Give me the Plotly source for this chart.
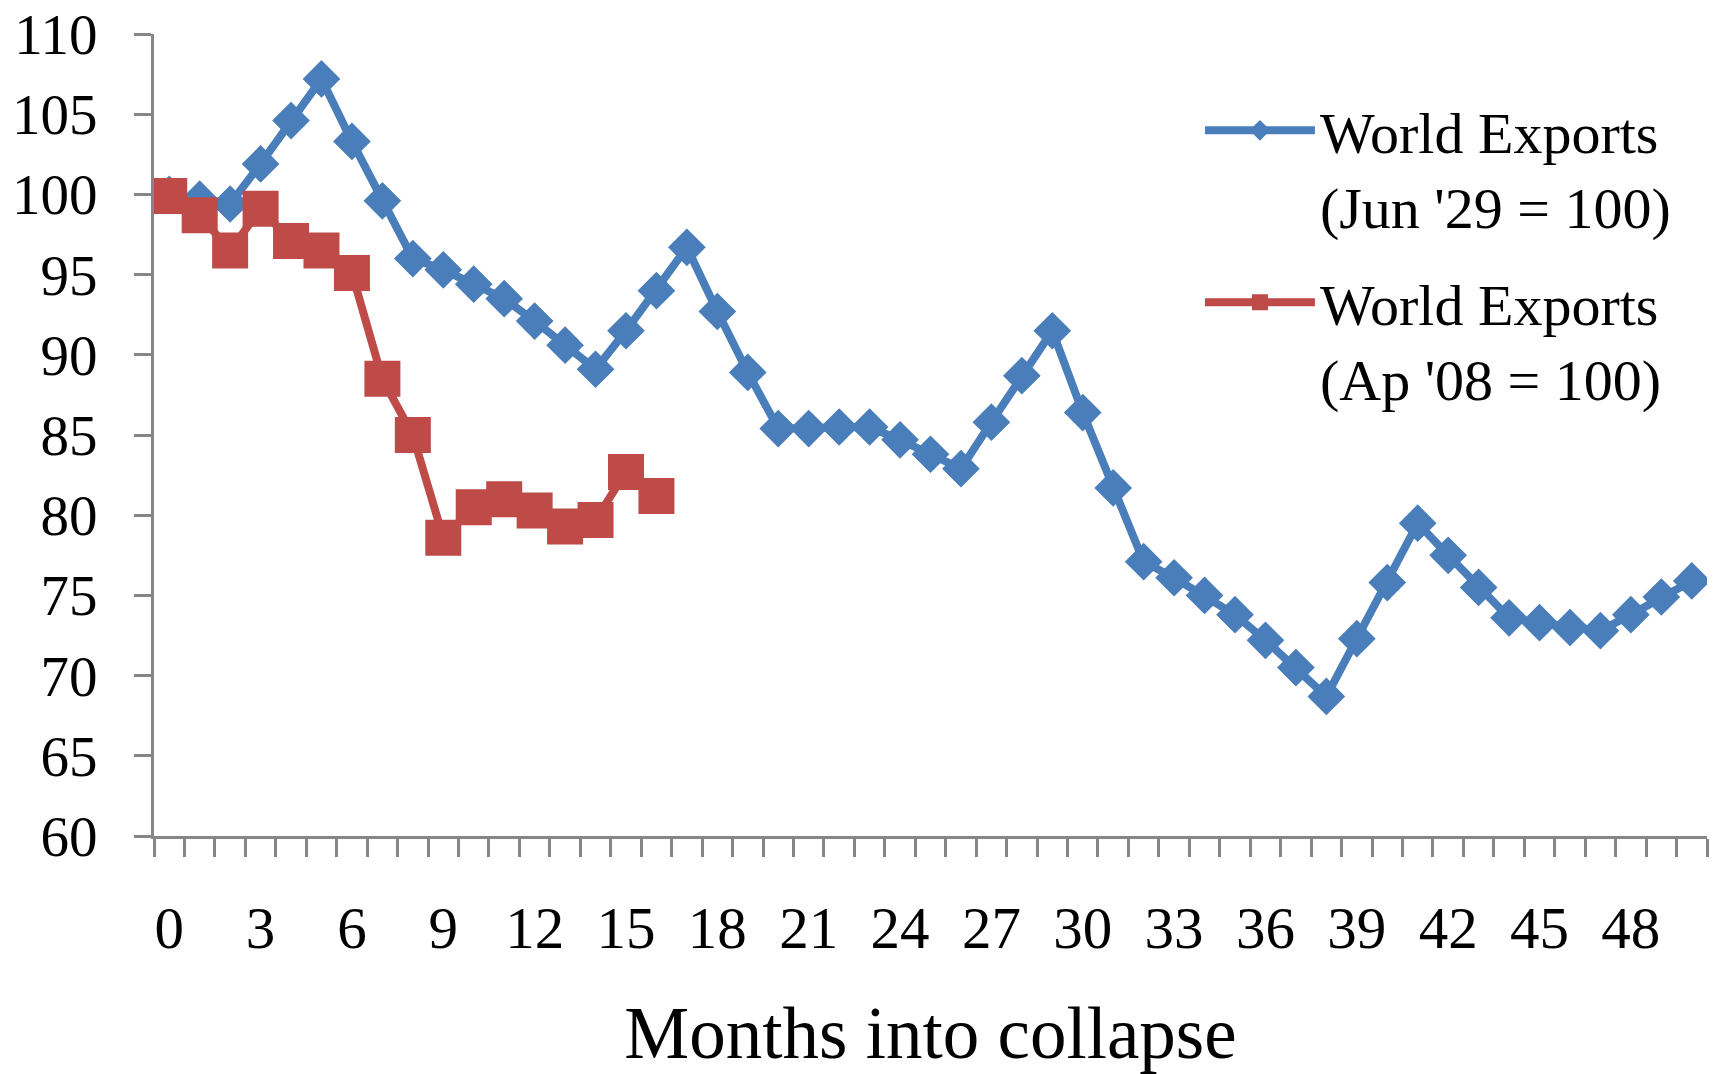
import plotly.graph_objects as go

months_1929 = list(range(51))
exports_1929 = [100.0, 99.7, 99.4, 101.9, 104.6, 107.2, 103.3, 99.6, 96.0, 95.3,
                94.4, 93.5, 92.1, 90.6, 89.1, 91.5, 94.0, 96.7, 92.7, 88.9,
                85.4, 85.4, 85.5, 85.5, 84.7, 83.8, 82.9, 85.8, 88.7, 91.5,
                86.4, 81.7, 77.1, 76.1, 75.0, 73.8, 72.2, 70.5, 68.7, 72.3,
                75.8, 79.5, 77.5, 75.5, 73.6, 73.3, 73.0, 72.8, 73.8, 74.9, 75.9]
months_2008 = list(range(17))
exports_2008 = [99.9, 98.7, 96.5, 99.1, 97.1, 96.5, 95.1, 88.5, 85.0, 78.6,
                80.5, 81.0, 80.3, 79.3, 79.7, 82.7, 81.2]
x_tick_labels = list(range(0, 49, 3))
name_1929 = "World Exports<br>(Jun '29 = 100)"
name_2008 = "World Exports<br>(Ap '08 = 100)"

BLUE = "#4A7EBB"
RED = "#BE4B48"
GRAY = "#868686"
FONT = "Liberation Serif"

fig = go.Figure()
fig.add_trace(go.Scatter(
    x=months_1929, y=exports_1929, name=name_1929, legendgroup="a",
    mode="lines+markers",
    line=dict(color=BLUE, width=8),
    marker=dict(symbol="diamond", size=29, color=BLUE, line=dict(width=0)),
))
fig.add_trace(go.Scatter(
    x=months_2008, y=exports_2008, name=name_2008, legendgroup="b",
    mode="lines+markers",
    line=dict(color=RED, width=8),
    marker=dict(symbol="square", size=36, color=RED, line=dict(width=0)),
))

fig.update_layout(
    width=1713, height=1074,
    margin=dict(l=154, r=6, t=34, b=238),
    paper_bgcolor="white", plot_bgcolor="white",
    font=dict(family=FONT, size=58, color="black"),
    showlegend=True,
    legend=dict(
        x=0.6735, y=0.935, xanchor="left", yanchor="top",
        font=dict(family=FONT, size=58, color="black"),
        bgcolor="rgba(0,0,0,0)", valign="top",
        itemwidth=110, tracegroupgap=18,
    ),
    xaxis=dict(
        range=[-0.5, 50.5], tickmode="array", tickvals=x_tick_labels,
        ticktext=[str(v) for v in x_tick_labels],
        ticks="", showgrid=False, zeroline=False,
        showline=True, linecolor=GRAY, linewidth=3,
        ticklabelstandoff=38, automargin=False,
        minor=dict(tickmode="linear", tick0=0.5, dtick=1, ticks="outside",
                   ticklen=18, tickwidth=3, tickcolor=GRAY, showgrid=False),
        title=dict(text="Months into collapse", font=dict(family=FONT, size=73),
                   standoff=48),
        tickfont=dict(family=FONT, size=59),
    ),
    yaxis=dict(
        range=[60, 110], tickmode="linear", tick0=60, dtick=5,
        ticks="outside", ticklen=17, tickwidth=3, tickcolor=GRAY,
        showgrid=False, zeroline=False,
        showline=True, linecolor=GRAY, linewidth=3,
        ticklabelstandoff=25, automargin=False,
        ticklabeloverflow="allow",
        tickfont=dict(family=FONT, size=57),
    ),
)

fig.write_html("out.html")
